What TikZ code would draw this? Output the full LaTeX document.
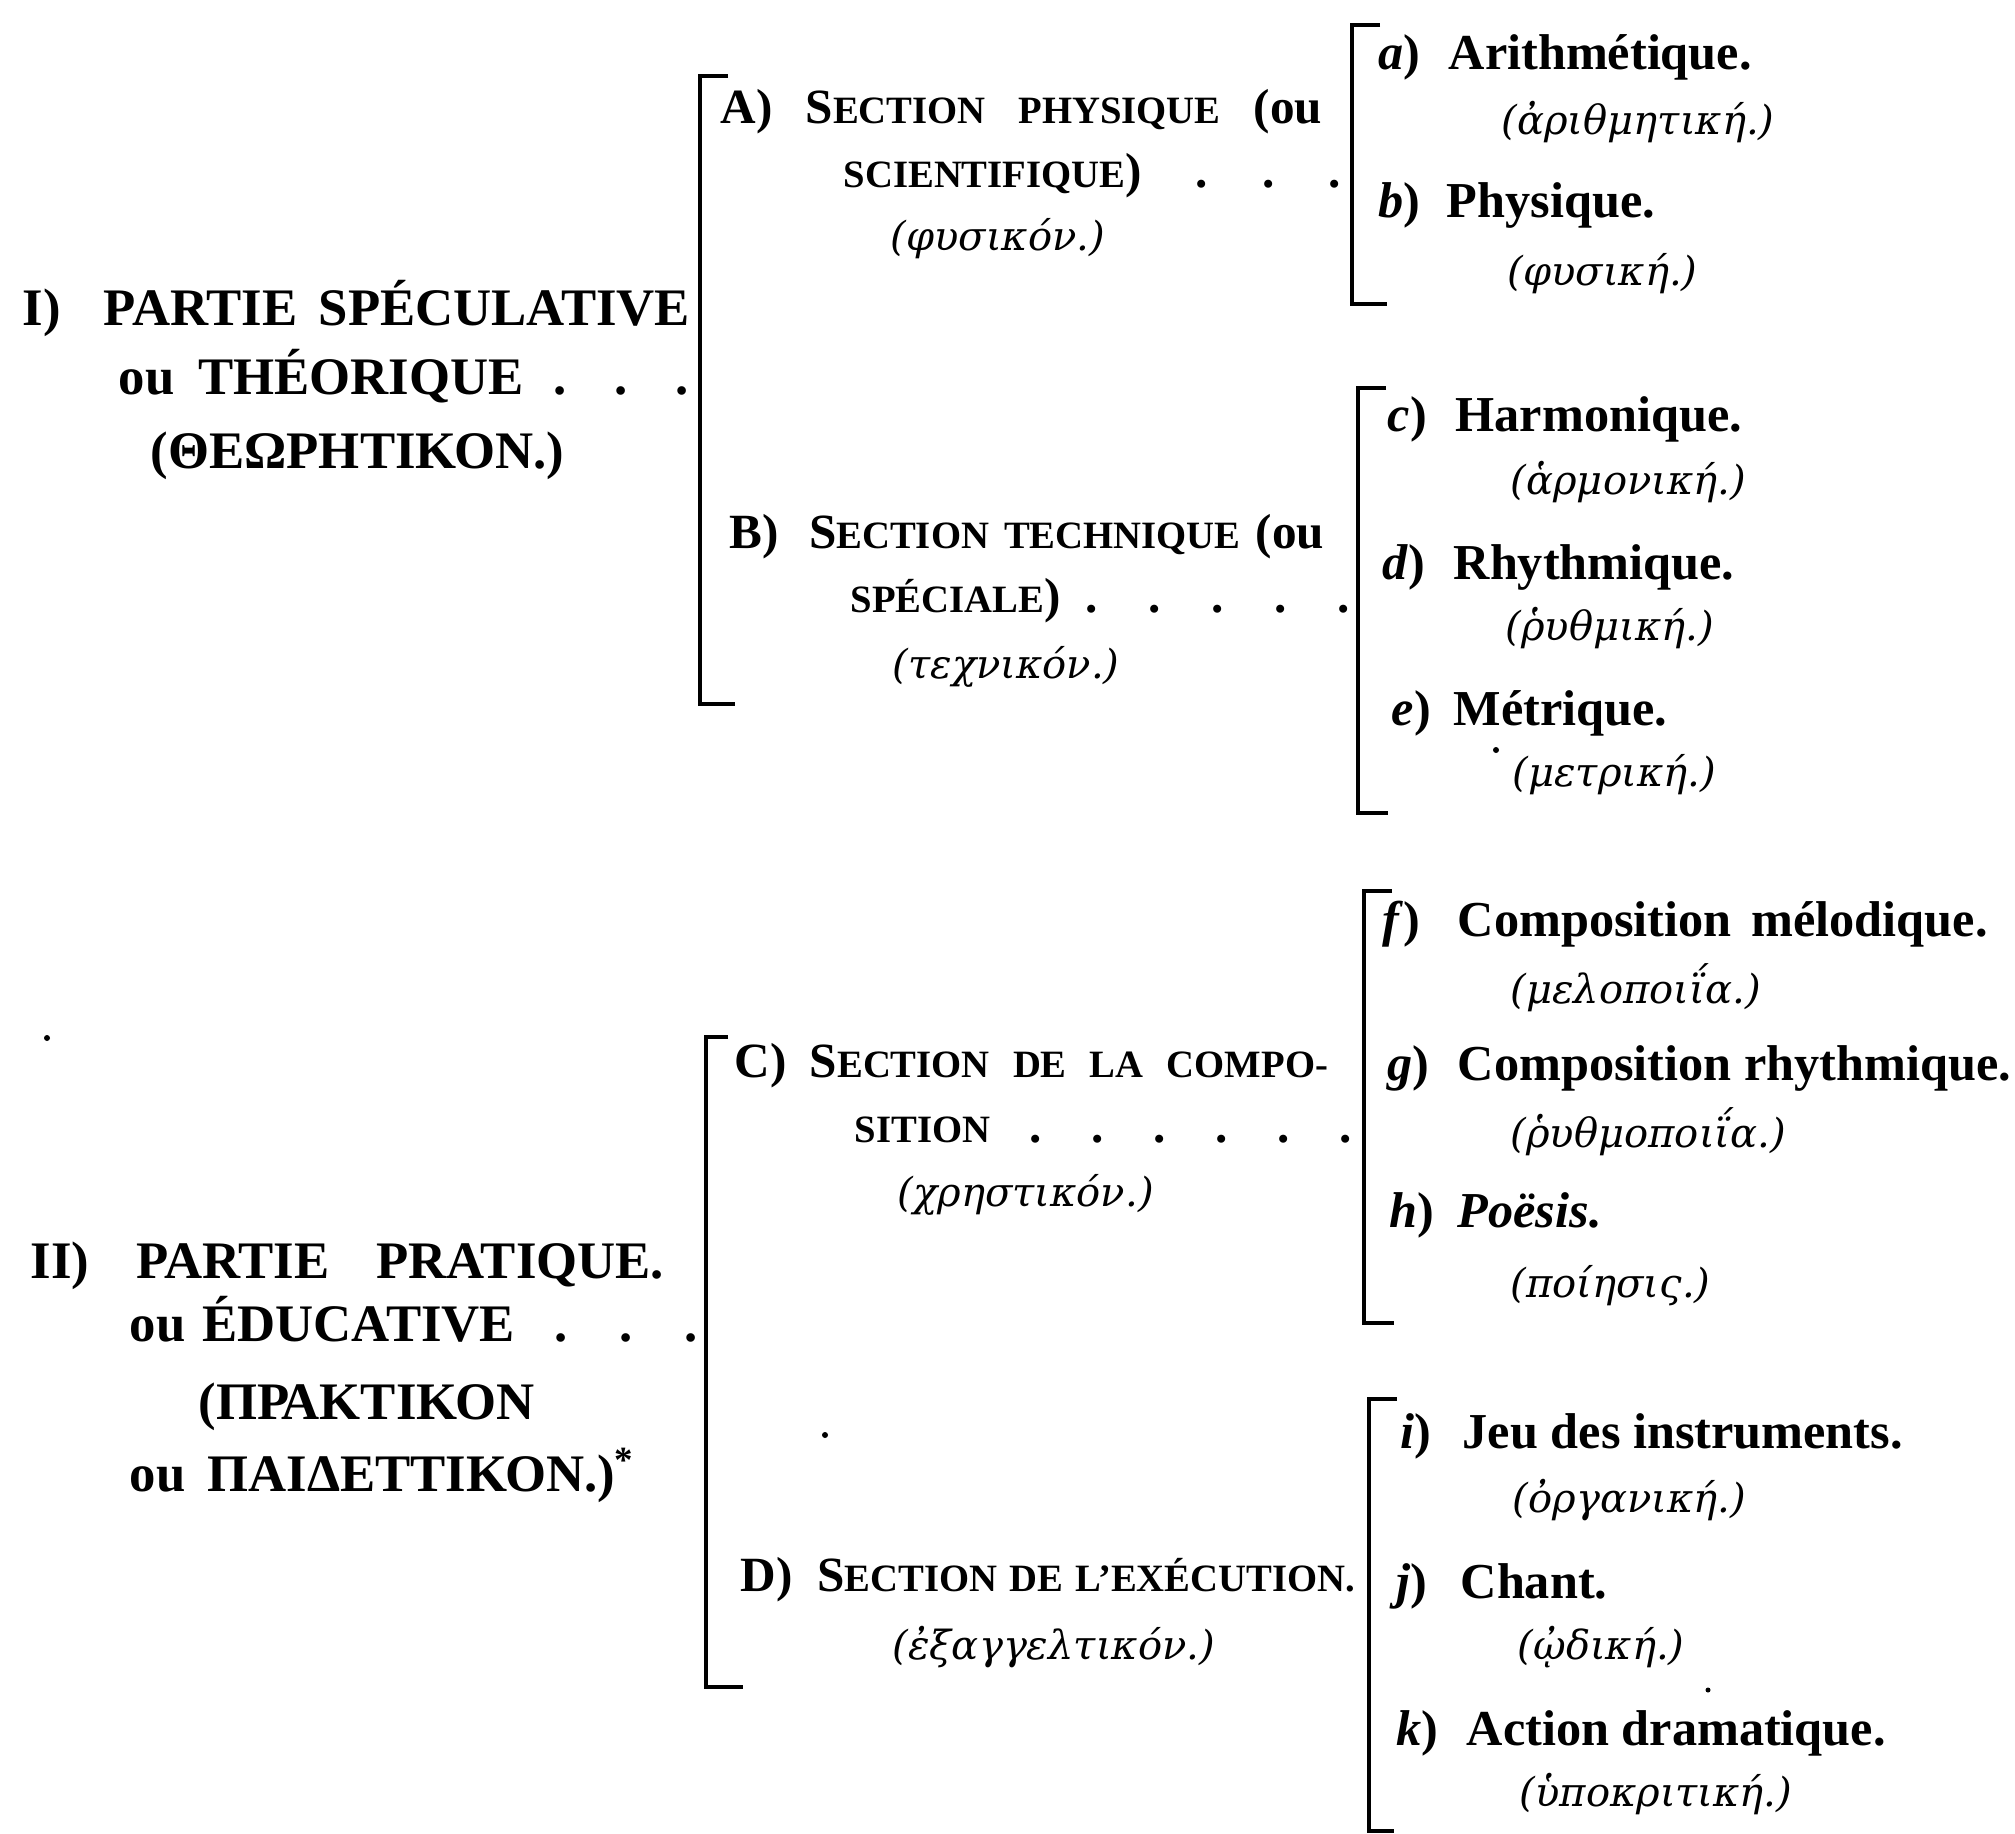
\documentclass[tikz,border=0pt]{standalone}
\usepackage{fontspec}
\setmainfont{Liberation Serif}
\newfontfamily\grkfont{DejaVu Serif}
% petites capitales faites a la main
\newcommand\pc[1]{{\fontsize{11pt}{13pt}\selectfont #1}}
\tikzset{
  txt/.style={inner sep=0pt, anchor=west},
  head/.style={txt, font=\fontsize{15pt}{18pt}\selectfont\bfseries, text height=11pt, text depth=3pt},
  sect/.style={txt, font=\fontsize{14pt}{17pt}\selectfont\bfseries, text height=10pt, text depth=3pt},
  itm/.style={txt, font=\fontsize{14.3pt}{17pt}\selectfont\bfseries, text height=10.4pt, text depth=3pt},
  grk/.style={txt, font=\fontsize{11.4pt}{14pt}\selectfont\grkfont\itshape, text height=8.6pt, text depth=2.6pt},
  brk/.style={line width=1.4pt},
  speck/.style={fill=black}
}
\begin{document}
\begin{tikzpicture}[x=0.01cm,y=-0.01cm]
    \useasboundingbox[fill=white] (0,0) rectangle (2015,1833);

    % I) Partie speculative
    \node[head] (p1a) at (22,311) {\makebox[6.67cm][s]{I)\ \ PARTIE SPÉCULATIVE}};
    \node[head] (p1b) at (118,380) {\makebox[5.70cm][l]{ou\hspace{.24cm}THÉORIQUE\hspace{.3cm}.\hfill.\hfill.}};
    \node[head] (p1c) at (150,454) {(ΘΕΩΡΗΤΙΚΟΝ.)};

    % II) Partie pratique
    \node[head] (p2a) at (30,1264) {\makebox[6.33cm][s]{II)\ \ PARTIE\ \ PRATIQUE.}};
    \node[head] (p2b) at (129,1327) {\makebox[5.68cm][l]{ou\hspace{.17cm}ÉDUCATIVE\hspace{.4cm}.\hfill.\hfill.}};
    \node[head] (p2c) at (198,1405) {(ΠΡΑΚΤΙΚΟΝ};
    \node[head] (p2d) at (129,1477) {ou\hspace{.22cm}ΠΑΙΔΕΤΤΙΚΟΝ.)\textsuperscript{*}};

    % big brackets
    \coordinate (Itop) at (700,76);   \coordinate (Ibot) at (700,704);
    \coordinate (IItop) at (706,1037); \coordinate (IIbot) at (706,1687);
    \draw[brk] (Itop) ++(28,0) -- (Itop) -- (Ibot) -- ++(35,0);
    \draw[brk] (IItop) ++(22,0) -- (IItop) -- (IIbot) -- ++(37,0);

    % sections A) and B)
    \node[sect] (sA1) at (720,111) {\makebox[6.01cm][s]{A)\ \ S\pc{ECTION}\ \ \pc{PHYSIQUE}\ \ (ou}};
    \node[sect] (sA2) at (843,175) {\makebox[4.97cm][l]{\pc{SCIENTIFIQUE})\hfill.\hfill.\hfill.}};
    \node[grk] (sA3) at (890,240) {(φυσικόν.)};
    \node[sect] (sB1) at (729,536) {\makebox[5.94cm][s]{B)\ \ S\pc{ECTION}\ \pc{TECHNIQUE}\ (ou}};
    \node[sect] (sB2) at (850,600) {\makebox[4.99cm][l]{\pc{SPÉCIALE})\hspace{.25cm}.\hfill.\hfill.\hfill.\hfill.}};
    \node[grk] (sB3) at (892,668) {(τεχνικόν.)};

    % sections C) and D)
    \node[sect] (sC1) at (734,1065) {\makebox[5.93cm][s]{C)\ \ S\pc{ECTION}\ \ \pc{DE}\ \ \pc{LA}\ \ \pc{COMPO-}}};
    \node[sect] (sC2) at (854,1130) {\makebox[4.97cm][l]{\pc{SITION}\hspace{.39cm}.\hfill.\hfill.\hfill.\hfill.\hfill.}};
    \node[grk] (sC3) at (897,1196) {(χρηστικόν.)};
    \node[sect] (sD1) at (740,1579) {\makebox[6.14cm][s]{D)\ \ S\pc{ECTION}\ \pc{DE}\ \pc{L’EXÉCUTION.}}};
    \node[grk] (sD2) at (892,1649) {(ἐξαγγελτικόν.)};

    % small brackets
    \coordinate (abtop) at (1352,25);    \coordinate (abbot) at (1352,304);
    \coordinate (cdetop) at (1358,388);  \coordinate (cdebot) at (1358,813);
    \coordinate (fghtop) at (1364,891);  \coordinate (fghbot) at (1364,1323);
    \coordinate (ijktop) at (1369,1399); \coordinate (ijkbot) at (1369,1831);
    \draw[brk] (abtop) ++(28,0) -- (abtop) -- (abbot) -- ++(35,0);
    \draw[brk] (cdetop) ++(28,0) -- (cdetop) -- (cdebot) -- ++(30,0);
    \draw[brk] (fghtop) ++(28,0) -- (fghtop) -- (fghbot) -- ++(30,0);
    \draw[brk] (ijktop) ++(28,0) -- (ijktop) -- (ijkbot) -- ++(25,0);

    % a) b)
    \node[itm] (la) at (1378,56) {\textit{a})};
    \node[itm] (ia) at (1448,56) {Arithmétique.};
    \node[grk] (ga) at (1501,124) {(ἀριθμητική.)};
    \node[itm] (lb) at (1378,204) {\textit{b})};
    \node[itm] (ib) at (1446,204) {Physique.};
    \node[grk] (gb) at (1507,275) {(φυσική.)};

    % c) d) e)
    \node[itm] (lc) at (1387,418) {\textit{c})};
    \node[itm] (ic) at (1455,418) {Harmonique.};
    \node[grk] (gc) at (1510,484) {(ἁρμονική.)};
    \node[itm] (ld) at (1382,566) {\textit{d})};
    \node[itm] (id) at (1453,566) {Rhythmique.};
    \node[grk] (gd) at (1505,630) {(ῥυθμική.)};
    \node[itm] (le) at (1391,712) {\textit{e})};
    \node[itm] (ie) at (1453,712) {Métrique.};
    \node[grk] (ge) at (1512,776) {(μετρική.)};

    % f) g) h)
    \node[itm] (lf) at (1382,923) {\textit{f})};
    \node[itm] (if) at (1457,923) {Composition\hspace{.2cm}mélodique.};
    \node[grk] (gf) at (1510,993) {(μελοποιΐα.)};
    \node[itm] (lg) at (1387,1067) {\textit{g})};
    \node[itm] (ig) at (1457,1067) {Composition rhythmique.};
    \node[grk] (gg) at (1510,1137) {(ῥυθμοποιΐα.)};
    \node[itm] (lh) at (1389,1214) {\textit{h})};
    \node[itm] (ih) at (1457,1214) {\textit{Poësis.}};
    \node[grk] (gh) at (1510,1287) {(ποίησις.)};

    % i) j) k)
    \node[itm] (li) at (1400,1435) {\textit{i})};
    \node[itm] (ii) at (1462,1435) {Jeu des instruments.};
    \node[grk] (gi) at (1512,1502) {(ὀργανική.)};
    \node[itm] (lj) at (1396,1585) {\textit{j})};
    \node[itm] (ij) at (1460,1585) {Chant.};
    \node[grk] (gj) at (1517,1649) {(ᾠδική.)};
    \node[itm] (lk) at (1396,1732) {\textit{k})};
    \node[itm] (ik) at (1466,1732) {Action dramatique.};
    \node[grk] (gk) at (1519,1796) {(ὑποκριτική.)};

    % stray marks of the print
    \fill[speck] (47,1038) circle (3);
    \fill[speck] (825,1435) circle (3);
    \fill[speck] (1496,750) circle (3);
    \fill[speck] (1708,1690) circle (2.5);

\end{tikzpicture}
\end{document}
